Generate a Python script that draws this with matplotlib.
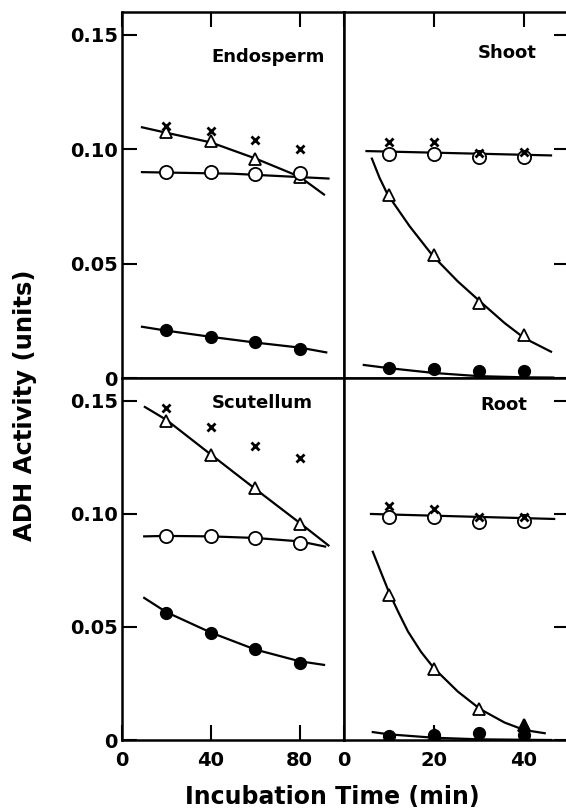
import matplotlib
matplotlib.use("Agg")
import matplotlib.pyplot as plt

plt.rcParams['font.family'] = ['DejaVu Sans']
plt.rcParams['font.weight'] = 'bold'

# sampling times (min)
t_long = [20, 40, 60, 80]
t_short = [10, 20, 30, 40]

# Endosperm
endo_x = [0.110, 0.108, 0.104, 0.100]
endo_tri = [0.1074, 0.1035, 0.0956, 0.0880]
endo_open = [0.0899, 0.0899, 0.0890, 0.0894]
endo_fill = [0.0210, 0.0180, 0.0158, 0.0127]
endo_tri_fit_t = [9, 20, 40, 60, 80, 91]
endo_tri_fit = [0.1096, 0.1072, 0.1030, 0.0960, 0.0880, 0.0802]
endo_open_fit_t = [9, 50, 93]
endo_open_fit = [0.0900, 0.0893, 0.0872]
endo_fill_fit_t = [9, 20, 40, 60, 80, 92]
endo_fill_fit = [0.0224, 0.0207, 0.0180, 0.0155, 0.0133, 0.0112]

# Shoot
shoot_x = [0.1030, 0.1030, 0.0985, 0.0986]
shoot_open = [0.0978, 0.0978, 0.0968, 0.0964]
shoot_tri = [0.0802, 0.0539, 0.0329, 0.0188]
shoot_fill = [0.0044, 0.0040, 0.0032, 0.0032]
shoot_open_fit_t = [5, 46]
shoot_open_fit = [0.0992, 0.0973]
shoot_tri_fit_t = [6.2, 7.9, 9.7, 14.6, 19.7, 25.3, 30.5, 35.7, 40.1, 46.0]
shoot_tri_fit = [0.0959, 0.0875, 0.0802, 0.0663, 0.0535, 0.0422, 0.0330, 0.0240, 0.0174, 0.0115]
shoot_fill_fit_t = [4.4, 10, 20, 30, 40, 46.5]
shoot_fill_fit = [0.0057, 0.0043, 0.0022, 0.0008, 0.0003, 0.0002]

# Scutellum
scut_x = [0.1468, 0.1384, 0.1300, 0.1247]
scut_tri = [0.1410, 0.1260, 0.1114, 0.0955]
scut_open = [0.0902, 0.0902, 0.0893, 0.0871]
scut_fill = [0.0561, 0.0473, 0.0402, 0.0340]
scut_tri_fit_t = [10.3, 20, 40, 60, 80, 93]
scut_tri_fit = [0.1472, 0.1415, 0.1262, 0.1110, 0.0960, 0.0860]
scut_open_fit_t = [10, 20, 40, 60, 80, 91.5]
scut_open_fit = [0.0900, 0.0902, 0.0900, 0.0893, 0.0878, 0.0855]
scut_fill_fit_t = [10, 20, 40, 60, 80, 91]
scut_fill_fit = [0.0628, 0.0565, 0.0475, 0.0400, 0.0348, 0.0332]

# Root
root_x = [0.1035, 0.1020, 0.0985, 0.0985]
root_open = [0.0986, 0.0986, 0.0962, 0.0968]
root_tri = [0.0641, 0.0314, 0.0137, 0.0066]
root_fill = [0.0018, 0.0020, 0.0030, 0.0020]
root_tri_dark_t = [20, 40]
root_tri_dark = [0.0028, 0.0066]
root_open_fit_t = [6, 46.7]
root_open_fit = [0.0999, 0.0977]
root_tri_fit_t = [6.4, 8.3, 10.1, 12.2, 14.2, 17.1, 20.0, 25.3, 30.3, 35.7, 40.1, 44.6]
root_tri_fit = [0.0832, 0.0737, 0.0648, 0.0560, 0.0480, 0.0390, 0.0317, 0.0214, 0.0136, 0.0077, 0.0044, 0.0030]
root_fill_fit_t = [6.4, 10, 20, 30, 40, 46]
root_fill_fit = [0.0035, 0.0025, 0.0010, 0.0003, 0.0001, 0.0]

W, H = 566, 810
fig = plt.figure(figsize=(W / 100, H / 100), dpi=100)


def px_axes(x0, y0, x1, y1):
    return fig.add_axes([x0 / W, 1 - y1 / H, (x1 - x0) / W, (y1 - y0) / H])


ax_endo = px_axes(122, 12, 344, 378)
ax_shoot = px_axes(344, 12, 569, 378)
ax_scut = px_axes(122, 378, 344, 740)
ax_root = px_axes(344, 378, 569, 740)

lw = 1.6
open_kw = dict(ls='none', marker='o', ms=9.5, mfc='white', mec='black', mew=1.3)
tri_kw = dict(ls='none', marker='^', ms=9, mfc='white', mec='black', mew=1.3)
fill_kw = dict(ls='none', marker='o', ms=8.5, color='black')
x_kw = dict(ls='none', marker='x', ms=6, mew=2, color='black')


def draw(ax, t, fits, opn, tri, fil, crs):
    for ft, fv in fits:
        ax.plot(ft, fv, color='black', lw=lw, zorder=2)
    ax.plot(t, fil, zorder=3, **fill_kw)
    ax.plot(t, tri, zorder=3, **tri_kw)
    ax.plot(t, opn, zorder=3, **open_kw)
    ax.plot(t, crs, zorder=4, **x_kw)


draw(ax_endo, t_long,
     [(endo_tri_fit_t, endo_tri_fit), (endo_open_fit_t, endo_open_fit), (endo_fill_fit_t, endo_fill_fit)],
     endo_open, endo_tri, endo_fill, endo_x)
draw(ax_shoot, t_short,
     [(shoot_tri_fit_t, shoot_tri_fit), (shoot_open_fit_t, shoot_open_fit), (shoot_fill_fit_t, shoot_fill_fit)],
     shoot_open, shoot_tri, shoot_fill, shoot_x)
draw(ax_scut, t_long,
     [(scut_tri_fit_t, scut_tri_fit), (scut_open_fit_t, scut_open_fit), (scut_fill_fit_t, scut_fill_fit)],
     scut_open, scut_tri, scut_fill, scut_x)
draw(ax_root, t_short,
     [(root_tri_fit_t, root_tri_fit), (root_open_fit_t, root_open_fit), (root_fill_fit_t, root_fill_fit)],
     root_open, root_tri, root_fill, root_x)
ax_root.plot(root_tri_dark_t, root_tri_dark, ls='none', marker='^', ms=9, color='black', zorder=5)

yt = [0, 0.05, 0.10, 0.15]
ylabels = ['0', '0.05', '0.10', '0.15']
for ax in (ax_endo, ax_shoot, ax_scut, ax_root):
    ax.set_ylim(0, 0.16)
    ax.set_yticks(yt)
    for s in ax.spines.values():
        s.set_linewidth(1.8)
    ax.tick_params(direction='in', length=11, width=1.5, labelsize=14, pad=3)

for ax in (ax_endo, ax_scut):
    ax.set_xlim(0, 100)
    ax.set_xticks([0, 40, 80])
    ax.set_xticklabels(['0', '40', '80'])
    ax.set_yticklabels(ylabels)
    ax.tick_params(axis='y', left=True, right=False)
for ax in (ax_shoot, ax_root):
    ax.set_xlim(0, 50)
    ax.set_xticks([0, 20, 40])
    ax.set_xticklabels(['0', '20', '40'])
    ax.tick_params(axis='y', left=False, right=True, labelleft=False)

for ax in (ax_endo, ax_shoot):
    ax.tick_params(axis='x', top=True, bottom=False, labelbottom=False)
for ax in (ax_scut, ax_root):
    ax.tick_params(axis='x', top=False, bottom=True, labelbottom=True, pad=8)

ax_endo.text(0.915, 0.877, 'Endosperm', transform=ax_endo.transAxes, ha='right', va='center', fontsize=13)
ax_shoot.text(0.858, 0.888, 'Shoot', transform=ax_shoot.transAxes, ha='right', va='center', fontsize=13)
ax_scut.text(0.86, 0.931, 'Scutellum', transform=ax_scut.transAxes, ha='right', va='center', fontsize=13)
ax_root.text(0.813, 0.925, 'Root', transform=ax_root.transAxes, ha='right', va='center', fontsize=13)

fig.text(25 / W, 1 - 405 / H, 'ADH Activity (units)', rotation=90, ha='center', va='center', fontsize=17.5)
fig.text(332 / W, 1 - 797 / H, 'Incubation Time (min)', ha='center', va='center', fontsize=17)

fig.savefig('out.png', dpi=100)
